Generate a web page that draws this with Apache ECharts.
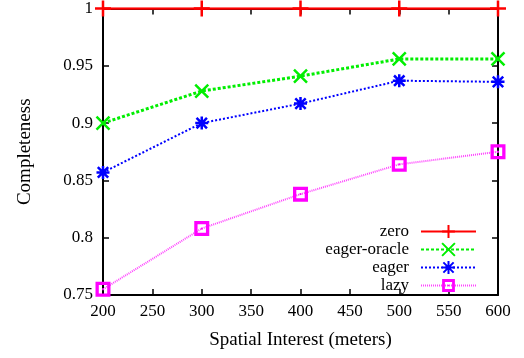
<!DOCTYPE html>
<html>
<head>
<meta charset="utf-8">
<script src="https://cdn.jsdelivr.net/npm/echarts@6/dist/echarts.min.js"></script>
<style>
  html, body { margin: 0; padding: 0; background: #fff; }
  #chart { width: 524px; height: 358px; }
</style>
</head>
<body>
<div id="chart"></div>
<script>
// spatial interest (meters)
const interest = [200, 300, 400, 500, 600];
const zero = [1, 1, 1, 1, 1];
const eagerOracle = [0.9, 0.928, 0.941, 0.956, 0.956];
const eager = [0.857, 0.9, 0.917, 0.937, 0.936];
const lazy = [0.755, 0.808, 0.838, 0.864, 0.875];

const serif = "Liberation Serif";
const pair = (vals) => interest.map((x, i) => [x, vals[i]]);

const chart = echarts.init(document.getElementById("chart"));

const plus = "path://M0,5L10,5M5,0L5,10";
const cross = "path://M0,0L10,10M10,0L0,10";
const star = "path://M0,5L10,5M5,0L5,10M1,1L9,9M9,1L1,9";
// hollow square with a dot in the middle
const box = "path://M0,0L10,0L10,10L0,10ZM2.2,2.2L2.2,7.8L7.8,7.8L7.8,2.2ZM4.4,4.4L5.6,4.4L5.6,5.6L4.4,5.6Z";

const option = {
  animation: false,
  grid: { left: 103, right: 26, top: 6, bottom: 63 },
  legend: {
    orient: "vertical",
    right: 47,
    top: 223,
    padding: 0,
    align: "right",
    itemWidth: 55,
    itemHeight: 16,
    itemGap: 1,
    textStyle: { fontFamily: serif, fontSize: 17, lineHeight: 16, color: "#000", padding: [0, 7, 0, 0] },
    data: ["zero", "eager-oracle", "eager", "lazy"],
  },
  xAxis: [
    {
      type: "value",
      min: 200,
      max: 600,
      interval: 50,
      name: "Spatial Interest (meters)",
      nameLocation: "middle",
      nameGap: 36,
      nameTextStyle: { fontFamily: serif, fontSize: 19, color: "#000" },
      axisLine: { lineStyle: { color: "#000", width: 2 } },
      axisTick: { inside: true, length: 6, lineStyle: { color: "#000", width: 1.5 } },
      axisLabel: { fontFamily: serif, fontSize: 17, color: "#000", margin: 8 },
      splitLine: { show: false },
    },
    {
      type: "value",
      position: "top",
      min: 200,
      max: 600,
      interval: 50,
      axisLine: { lineStyle: { color: "#000", width: 2 } },
      axisTick: { inside: true, length: 6, lineStyle: { color: "#000", width: 1.5 } },
      axisLabel: { show: false },
      splitLine: { show: false },
    },
  ],
  yAxis: [
    {
      type: "value",
      min: 0.75,
      max: 1,
      interval: 0.05,
      name: "Completeness",
      nameLocation: "middle",
      nameGap: 68,
      nameTextStyle: { fontFamily: serif, fontSize: 19, color: "#000" },
      axisLine: { show: true, lineStyle: { color: "#000", width: 2 } },
      axisTick: { show: true, inside: true, length: 6, lineStyle: { color: "#000", width: 1.5 } },
      axisLabel: { fontFamily: serif, fontSize: 17, color: "#000", margin: 10 },
      splitLine: { show: false },
    },
    {
      type: "value",
      position: "right",
      min: 0.75,
      max: 1,
      interval: 0.05,
      axisLine: { show: true, lineStyle: { color: "#000", width: 2 } },
      axisTick: { show: true, inside: true, length: 6, lineStyle: { color: "#000", width: 1.5 } },
      axisLabel: { show: false },
      splitLine: { show: false },
    },
  ],
  series: [
    {
      name: "zero",
      type: "line",
      data: pair(zero),
      symbol: plus,
      symbolSize: 16,
      itemStyle: { color: "#ff0000", borderColor: "#ff0000", borderWidth: 2.5 },
      lineStyle: { color: "#ff0000", width: 2.5 },
      z: 5,
    },
    {
      name: "eager-oracle",
      type: "line",
      data: pair(eagerOracle),
      symbol: cross,
      symbolSize: 13,
      itemStyle: { color: "#00ee00", borderColor: "#00ee00", borderWidth: 2.5 },
      lineStyle: { color: "#00ee00", width: 3, type: [3, 2] },
    },
    {
      name: "eager",
      type: "line",
      data: pair(eager),
      symbol: star,
      symbolSize: 13,
      itemStyle: { color: "#0000ff", borderColor: "#0000ff", borderWidth: 2.5 },
      lineStyle: { color: "#0000ff", width: 2, type: [2, 2] },
    },
    {
      name: "lazy",
      type: "line",
      data: pair(lazy),
      symbol: box,
      symbolSize: 15,
      itemStyle: { color: "#ff00ff" },
      lineStyle: { color: "#ff44ff", width: 2, type: [1, 1] },
    },
  ],
};

chart.setOption(option);
</script>
</body>
</html>
